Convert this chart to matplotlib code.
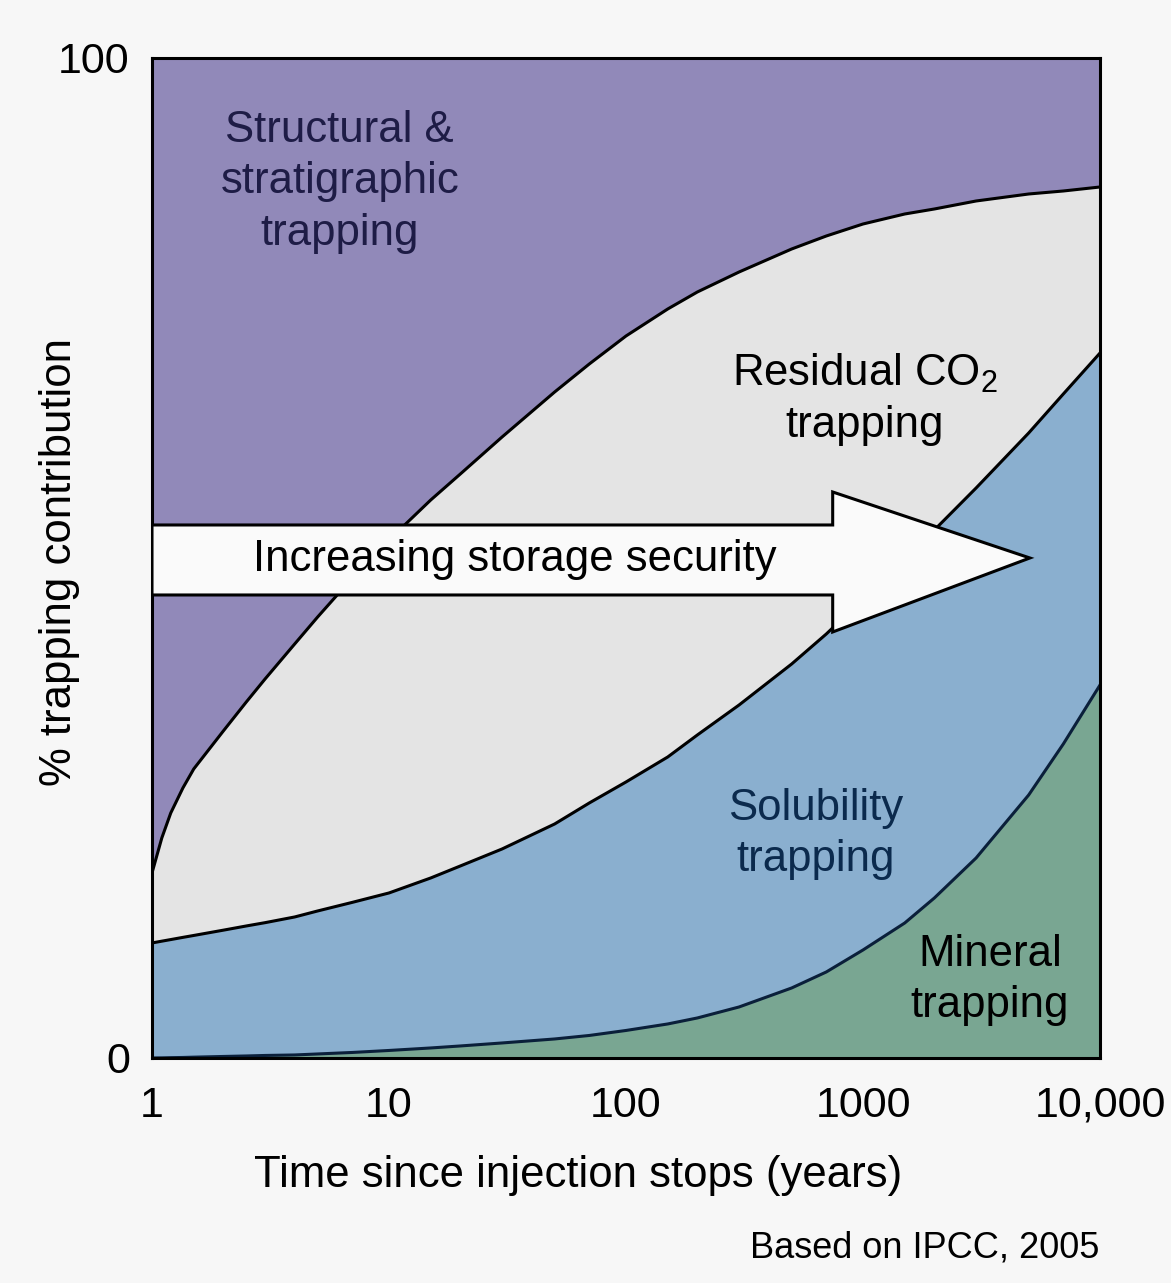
import matplotlib
matplotlib.use("Agg")
import matplotlib.pyplot as plt
from matplotlib.patches import Polygon

plt.rcParams["font.family"] = ["Liberation Sans", "DejaVu Sans"]
plt.rcParams["mathtext.fontset"] = "custom"
plt.rcParams["mathtext.rm"] = "Liberation Sans"
plt.rcParams["mathtext.it"] = "Liberation Sans"

# years since injection stops
years = [1, 1.1, 1.2, 1.35, 1.5, 2, 2.5, 3, 4, 5, 7, 10, 15, 20, 30, 50, 70, 100,
         150, 200, 300, 500, 700, 1000, 1500, 2000, 3000, 5000, 7000, 10000]
# cumulative % (top edge of each layer)
mineral_top = [0, 0.01, 0.03, 0.05, 0.08, 0.15, 0.2, 0.25, 0.3, 0.4, 0.55, 0.75, 1.0,
               1.2, 1.5, 1.9, 2.25, 2.75, 3.4, 4.0, 5.1, 7.0, 8.6, 10.8, 13.5, 16.0,
               20.0, 26.3, 31.4, 37.3]
solubility_top = [11.5, 11.68, 11.84, 12.06, 12.25, 12.78, 13.2, 13.53, 14.1, 14.7,
                  15.56, 16.5, 18.0, 19.2, 20.9, 23.4, 25.5, 27.6, 30.1, 32.3, 35.3,
                  39.4, 42.4, 45.9, 49.9, 52.8, 57.0, 62.5, 66.4, 70.5]
residual_top = [18.5, 22.0, 24.5, 27.0, 28.9, 32.7, 35.6, 37.9, 41.4, 44.1, 48.0, 51.8,
                55.8, 58.4, 62.1, 66.6, 69.4, 72.2, 74.9, 76.6, 78.6, 80.9, 82.2, 83.4,
                84.4, 84.9, 85.7, 86.4, 86.7, 87.1]

xticks = [1, 10, 100, 1000, 10000]
xticklabels = ["1", "10", "100", "1000", "10,000"]

c_struct = "#9189b9"
c_resid = "#e4e4e4"
c_solub = "#8aafcf"
c_miner = "#79a692"
bg = "#f7f7f7"

fig = plt.figure(figsize=(11.71, 12.83), dpi=100, facecolor=bg)
ax = fig.add_axes([0.1298, 0.1754, 0.8096, 0.7794])
ax.set_facecolor(bg)

ax.fill_between(years, 0, mineral_top, color=c_miner, lw=0)
ax.fill_between(years, mineral_top, solubility_top, color=c_solub, lw=0)
ax.fill_between(years, solubility_top, residual_top, color=c_resid, lw=0)
ax.fill_between(years, residual_top, 100, color=c_struct, lw=0)

ax.plot(years, mineral_top, color="#0a1f3a", lw=2.2, solid_joinstyle="round")
ax.plot(years, solubility_top, color="black", lw=2.2, solid_joinstyle="round")
ax.plot(years, residual_top, color="black", lw=2.2, solid_joinstyle="round")

ax.set_xscale("log")
ax.set_xlim(1, 10000)
ax.set_ylim(0, 100)
ax.set_xticks(xticks)
ax.set_xticklabels(xticklabels)
ax.minorticks_off()
ax.set_yticks([0, 100])
ax.set_yticklabels(["0", "100"])
ax.tick_params(length=0, labelsize=31, colors="black")
ax.tick_params(axis="x", pad=20)
ax.tick_params(axis="y", pad=16)
for s in ax.spines.values():
    s.set_linewidth(2.2)
    s.set_color("black")

# big white arrow (axes coordinates)
arrow = Polygon([(0, 0.533), (0.718, 0.533), (0.718, 0.566), (0.926, 0.5),
                 (0.718, 0.426), (0.718, 0.463), (0, 0.463)],
                closed=True, transform=ax.transAxes, facecolor="#fafafa",
                edgecolor="black", lw=2.2, zorder=5)
ax.add_patch(arrow)
ax.text(0.383, 0.498, "Increasing storage security", transform=ax.transAxes,
        ha="center", va="center", fontsize=31.5, zorder=6)

ax.text(0.198, 0.876, "Structural &\nstratigraphic\ntrapping", transform=ax.transAxes,
        ha="center", va="center", fontsize=31.5, color="#1e1c46", linespacing=1.33)
ax.text(0.752, 0.659, "Residual CO$_2$\ntrapping", transform=ax.transAxes,
        ha="center", va="center", fontsize=31.5, linespacing=1.33)
ax.text(0.70, 0.224, "Solubility\ntrapping", transform=ax.transAxes,
        ha="center", va="center", fontsize=31.5, color="#0b2a4d", linespacing=1.33)
ax.text(0.884, 0.078, "Mineral\ntrapping", transform=ax.transAxes,
        ha="center", va="center", fontsize=31.5, linespacing=1.33)

ax.set_xlabel("Time since injection stops (years)", fontsize=31.5)
ax.xaxis.set_label_coords(0.449, -0.097)
ax.set_ylabel("% trapping contribution", fontsize=31.5)
ax.yaxis.set_label_coords(-0.076, 0.496)

fig.text(925 / 1171, 1 - 1248 / 1283, "Based on IPCC, 2005", ha="center",
         va="center", fontsize=26)

fig.savefig("out.png", dpi=100, facecolor=bg)
